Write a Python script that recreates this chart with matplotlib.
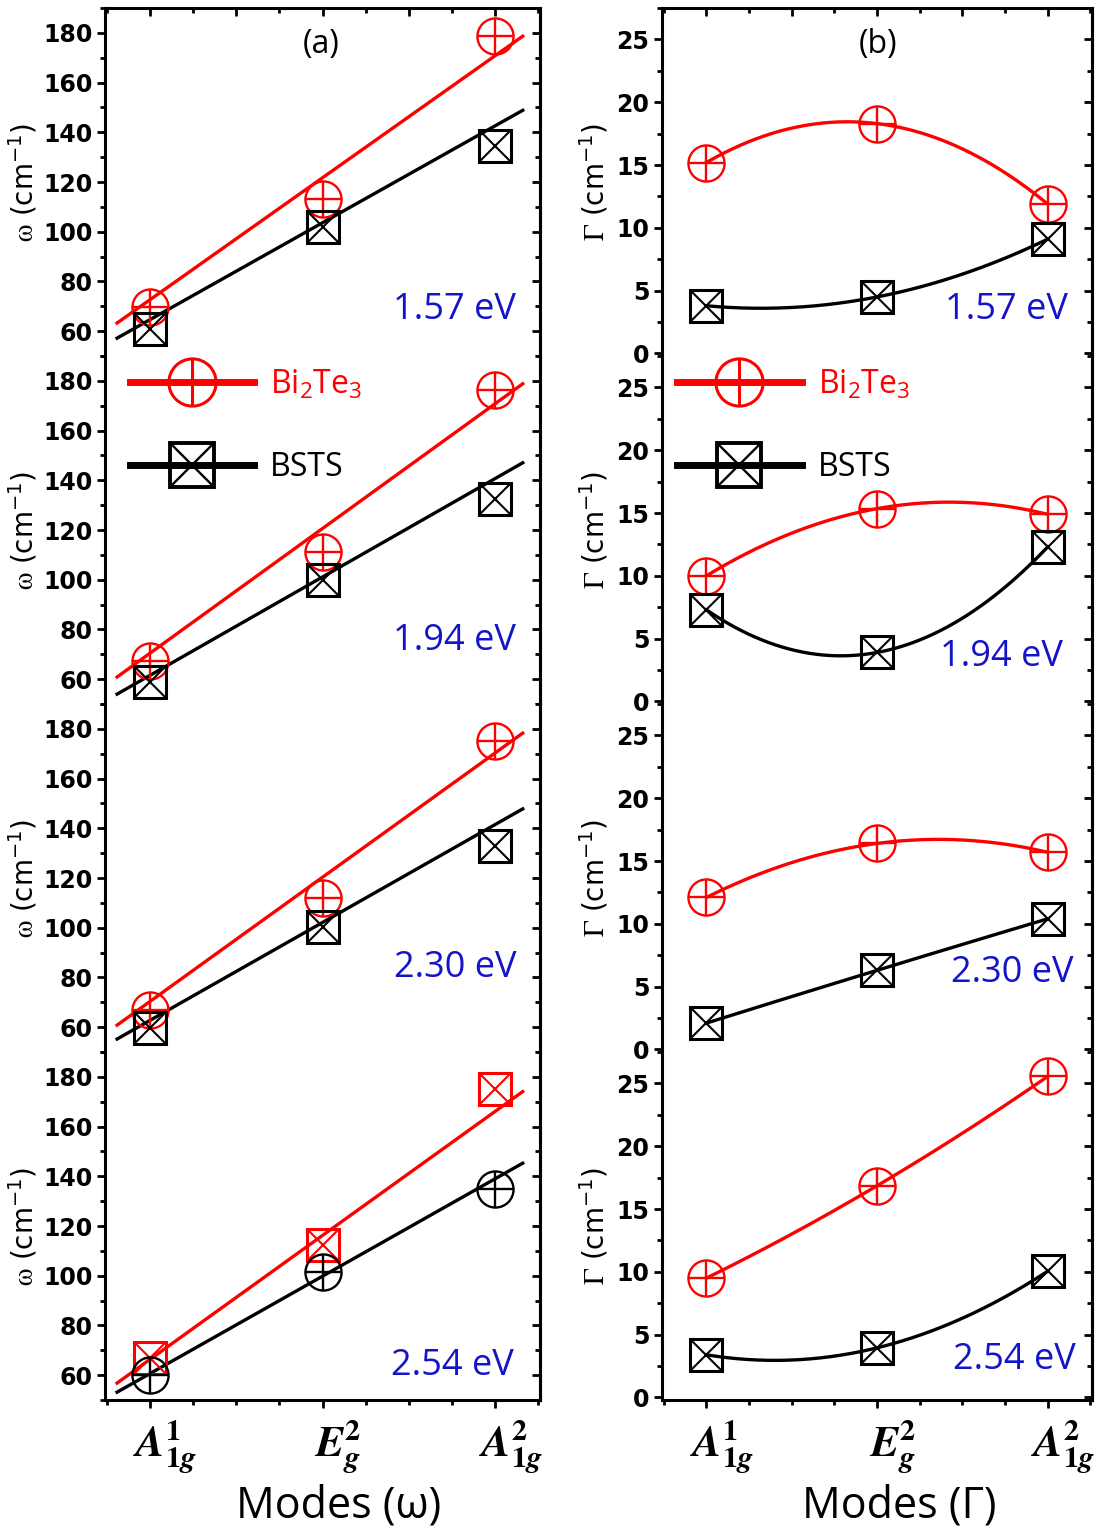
import numpy as np
import matplotlib
matplotlib.use("Agg")
import matplotlib.pyplot as plt
import matplotlib.transforms as mtransforms
from matplotlib.lines import Line2D
from matplotlib.legend_handler import HandlerTuple
from matplotlib.ticker import MultipleLocator, FixedLocator

plt.rcParams['mathtext.fontset'] = 'stix'
plt.rcParams['mathtext.default'] = 'regular'

# ---- data ----
modes = [1, 2, 3]
mode_labels = [r'$\mathbfit{A}^{\mathbf{1}}_{\mathbf{1}\mathbfit{g}}$',
               r'$\mathbfit{E}^{\mathbf{2}}_{\mathbfit{g}}$',
               r'$\mathbfit{A}^{\mathbf{2}}_{\mathbf{1}\mathbfit{g}}$']
energies = ['1.57 eV', '1.94 eV', '2.30 eV', '2.54 eV']

# peak position omega (cm^-1)
omega_bite = [[69.8, 113.2, 178.9], [67.3, 111.2, 176.5],
              [66.8, 112.0, 175.0], [66.9, 112.5, 175.0]]
omega_bsts = [[61.0, 102.0, 134.3], [59.0, 100.0, 132.6],
              [59.6, 100.3, 133.0], [60.0, 101.6, 134.7]]
# linear fits of omega vs mode
fit_bite_slope = [49.1, 50.2, 50.0, 49.9]
fit_bite_icpt = [23.5, 20.2, 20.3, 16.4]
fit_bsts_slope = [39.0, 39.6, 39.4, 39.2]
fit_bsts_icpt = [25.6, 21.9, 23.3, 21.4]

# linewidth Gamma (cm^-1)
gamma_bite = [[15.2, 18.3, 11.9], [10.0, 15.35, 14.9],
              [12.1, 16.4, 15.7], [9.5, 16.85, 25.55]]
gamma_bsts = [[3.8, 4.5, 9.1], [7.3, 3.9, 12.3],
              [2.1, 6.3, 10.4], [3.4, 3.95, 10.05]]

# marker kinds per panel (last omega panel has them swapped)
omega_kind_bite = ['circ', 'circ', 'circ', 'box']
omega_kind_bsts = ['box', 'box', 'box', 'circ']

RED = '#ff0000'
BLUE = '#1414c8'
SANS = 'Open Sans'


def marker(ax, x, y, kind, color, ms=26):
    if kind == 'circ':
        ax.plot(x, y, ls='none', marker='o', ms=ms, mfc='none', mec=color, mew=1.7, zorder=4)
        ax.plot(x, y, ls='none', marker='+', ms=ms, mec=color, mew=1.7, zorder=4)
    else:
        ax.plot(x, y, ls='none', marker='s', ms=ms * 0.88, mfc='none', mec=color, mew=2.2, zorder=4)
        ax.plot(x, y, ls='none', marker='x', ms=ms * 0.88, mec=color, mew=1.5, zorder=4)


def style(ax, i, ylim, major, minor):
    ax.set_xlim(0.74, 3.26)
    ax.set_ylim(*ylim)
    for s in ax.spines.values():
        s.set_linewidth(2.2)
    ax.spines['top'].set_visible(i == 0)
    ax.spines['bottom'].set_visible(i == 3)
    ax.yaxis.set_major_locator(MultipleLocator(major))
    ax.yaxis.set_minor_locator(MultipleLocator(minor))
    ax.tick_params(axis='y', which='both', direction='out', left=True, right=False,
                   width=2.0, labelsize=17, pad=3)
    ax.tick_params(axis='y', which='major', length=6)
    ax.tick_params(axis='y', which='minor', length=3.5)
    for lab in ax.get_yticklabels():
        lab.set_fontweight('bold')
    ax.xaxis.set_major_locator(MultipleLocator(0.5))
    ax.xaxis.set_minor_locator(MultipleLocator(0.25))
    if i == 0:
        ax.tick_params(axis='x', which='both', direction='in', top=True, bottom=False,
                       labelbottom=False, width=2.0)
    elif i == 3:
        ax.tick_params(axis='x', which='both', direction='out', top=False, bottom=True,
                       width=2.0, labelsize=31, pad=7)
        ax.set_xticks(modes, mode_labels)
        ax.xaxis.set_minor_locator(FixedLocator([0.75, 1.25, 1.5, 1.75, 2.25, 2.5, 2.75, 3.25]))
    else:
        ax.tick_params(axis='x', which='both', bottom=False, top=False, labelbottom=False)
    ax.tick_params(axis='x', which='major', length=6)
    ax.tick_params(axis='x', which='minor', length=3.5)
    sec = ax.secondary_yaxis('right')
    sec.yaxis.set_major_locator(MultipleLocator(major))
    sec.yaxis.set_minor_locator(MultipleLocator(minor))
    sec.tick_params(which='both', direction='in', width=2.0, labelright=False)
    sec.tick_params(which='major', length=6)
    sec.tick_params(which='minor', length=3.5)
    sec.spines['right'].set_linewidth(2.2)


def add_legend(ax, x0):
    hb = (Line2D([], [], color=RED, lw=5, marker='o', ms=34, mfc='none', mec=RED, mew=2.2),
          Line2D([], [], ls='none', marker='+', ms=34, mec=RED, mew=2.2))
    hs = (Line2D([], [], color='black', lw=5, marker='s', ms=32, mfc='none', mec='black', mew=2.8),
          Line2D([], [], ls='none', marker='x', ms=32, mec='black', mew=1.7))
    leg = ax.legend([hb, hs], ['Bi$_2$Te$_3$', 'BSTS'],
                    handler_map={tuple: HandlerTuple(ndivide=1)},
                    loc='upper left', bbox_to_anchor=(x0, 0.965), frameon=False,
                    borderpad=0, borderaxespad=0, handlelength=3.9, handletextpad=0.5,
                    labelspacing=1.55, prop={'family': SANS, 'size': 23})
    for t, c in zip(leg.get_texts(), [RED, 'black']):
        t.set_color(c)


fig = plt.figure(figsize=(11.06, 15.33), dpi=100)
W, H = 1106.0, 1533.0
top_px, panel_px = 8.0, 348.0

omega_txt = [(0.945, 0.132), (0.945, 0.18), (0.945, 0.24), (0.94, 0.098)]
gamma_txt = [(0.944, 0.132), (0.933, 0.135), (0.958, 0.227), (0.963, 0.115)]

xs = np.linspace(0.81, 3.16, 50)
xc = np.linspace(1, 3, 200)
bottom_axes = []

for i in range(4):
    bottom = 1 - (top_px + panel_px * (i + 1)) / H
    h = panel_px / H

    # omega column
    ax = fig.add_axes([105 / W, bottom, 435 / W, h])
    ax.plot(xs, fit_bite_icpt[i] + fit_bite_slope[i] * xs, color=RED, lw=2.4, zorder=3)
    ax.plot(xs, fit_bsts_icpt[i] + fit_bsts_slope[i] * xs, color='black', lw=2.4, zorder=3)
    marker(ax, modes, omega_bite[i], omega_kind_bite[i], RED)
    marker(ax, modes, omega_bsts[i], omega_kind_bsts[i], 'black')
    style(ax, i, (50, 190), 20, 10)
    ax.set_ylabel(r'$\mathrm{\omega}$ (cm$^{-1}$)', fontsize=20)
    ax.yaxis.set_label_coords(-0.15, 0.5)
    ax.text(omega_txt[i][0], omega_txt[i][1], energies[i], transform=ax.transAxes,
            ha='right', va='center', color=BLUE, fontsize=26, family=SANS)
    if i == 0:
        ax.text(0.497, 0.894, '(a)', transform=ax.transAxes, ha='center', va='center',
                fontsize=23, family=SANS)
    if i == 1:
        add_legend(ax, 0.057)
    if i == 3:
        ax.set_xlabel('Modes (ω)', fontsize=31, family=SANS)
        ax.xaxis.set_label_coords(0.536, -0.24)
        bottom_axes.append(ax)

    # gamma column
    bx = fig.add_axes([662 / W, bottom, 430 / W, h])
    bx.plot(xc, np.polyval(np.polyfit(modes, gamma_bite[i], 2), xc), color=RED, lw=2.4, zorder=3)
    bx.plot(xc, np.polyval(np.polyfit(modes, gamma_bsts[i], 2), xc), color='black', lw=2.4, zorder=3)
    marker(bx, modes, gamma_bite[i], 'circ', RED)
    marker(bx, modes, gamma_bsts[i], 'box', 'black')
    style(bx, i, (-0.2, 27.5), 5, 2.5)
    bx.set_ylabel(r'$\mathrm{\Gamma}$ (cm$^{-1}$)', fontsize=20)
    bx.yaxis.set_label_coords(-0.12, 0.5)
    bx.text(gamma_txt[i][0], gamma_txt[i][1], energies[i], transform=bx.transAxes,
            ha='right', va='center', color=BLUE, fontsize=26, family=SANS)
    if i == 0:
        bx.text(0.502, 0.894, '(b)', transform=bx.transAxes, ha='center', va='center',
                fontsize=23, family=SANS)
    if i == 1:
        add_legend(bx, 0.035)
    if i == 3:
        bx.set_xlabel('Modes (Γ)', fontsize=31, family=SANS)
        bx.xaxis.set_label_coords(0.551, -0.24)
        bottom_axes.append(bx)

# nudge the mode labels right, the way the original sets them
shift = mtransforms.ScaledTranslation(11 / 72, 0, fig.dpi_scale_trans)
for a in bottom_axes:
    for lab in a.get_xticklabels():
        lab.set_transform(lab.get_transform() + shift)

fig.savefig('out.png', dpi=100)
